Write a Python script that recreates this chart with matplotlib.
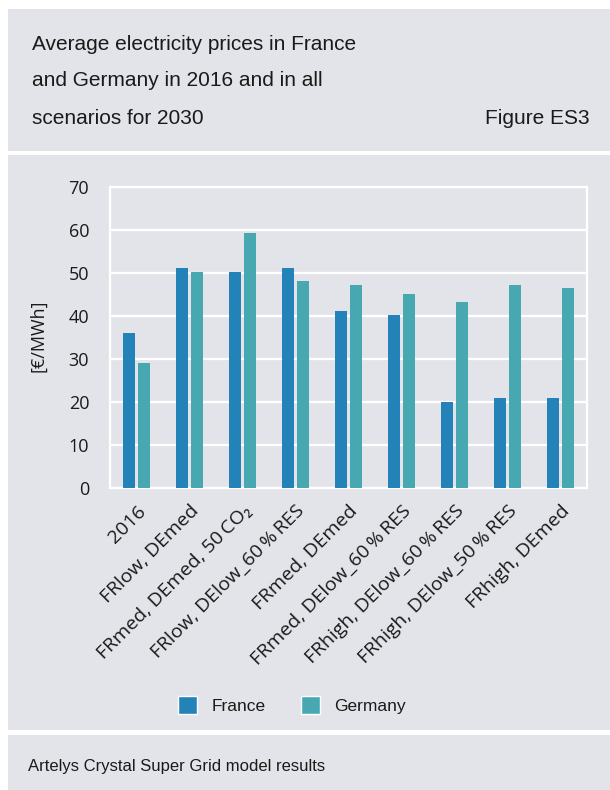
import matplotlib
matplotlib.use("Agg")
import matplotlib.pyplot as plt
from matplotlib.patches import Rectangle, Patch
from matplotlib import font_manager
import numpy as np

# data
scenarios = ["2016", "FRlow, DEmed", "FRmed, DEmed, 50\u2009CO\u2082",
             "FRlow, DElow_60\u2009%\u2009RES", "FRmed, DEmed",
             "FRmed, DElow_60\u2009%\u2009RES", "FRhigh, DElow_60\u2009%\u2009RES",
             "FRhigh, DElow_50\u2009%\u2009RES", "FRhigh, DEmed"]
france = [36.1, 51.2, 50.3, 51.2, 41.2, 40.3, 20.1, 21.0, 21.0]
germany = [29.1, 50.3, 59.4, 48.2, 47.3, 45.2, 43.3, 47.3, 46.4]
yticks = [0, 10, 20, 30, 40, 50, 60, 70]

c_fr = "#2383b8"
c_de = "#47a8b2"
panel = "#e3e4e9"
txt = "#1a1a1a"

names = set(f.name for f in font_manager.fontManager.ttflist)
narrow = "Liberation Sans Narrow" if "Liberation Sans Narrow" in names else "Liberation Sans"
tickfont = ["Open Sans", "DejaVu Sans"]

W, H = 610, 790
fig = plt.figure(figsize=(W / 100, H / 100), dpi=100)
fig.patch.set_facecolor("white")

def px_rect(x0, y0, x1, y1):
    fig.add_artist(Rectangle((x0 / W, 1 - y1 / H), (x1 - x0) / W, (y1 - y0) / H,
                             transform=fig.transFigure, facecolor=panel,
                             edgecolor="none", zorder=0))

px_rect(8, 9, 610, 151)
px_rect(8, 155, 610, 730)
px_rect(8, 735, 610, 790)

# header
fig.text(32 / W, 1 - 45 / H, "Average electricity prices in France", fontsize=15,
         family=narrow, color=txt, va="center")
fig.text(32 / W, 1 - 81 / H, "and Germany in 2016 and in all", fontsize=15,
         family=narrow, color=txt, va="center")
fig.text(32 / W, 1 - 118 / H, "scenarios for 2030", fontsize=15,
         family=narrow, color=txt, va="center")
fig.text(590 / W, 1 - 118 / H, "Figure ES3", fontsize=15,
         family=narrow, color=txt, va="center", ha="right")

# footer
fig.text(28 / W, 1 - 767 / H, "Artelys Crystal Super Grid model results", fontsize=12,
         family=narrow, color=txt, va="center")

ax = fig.add_axes([110 / W, 1 - 488 / H, 477 / W, 301 / H])
ax.set_facecolor(panel)
x = np.arange(len(scenarios))
w = 0.226
ax.bar(x - 0.142, france, width=w, color=c_fr, zorder=3)
ax.bar(x + 0.142, germany, width=w, color=c_de, zorder=3)

ax.set_xlim(-0.5, len(scenarios) - 0.5)
ax.set_ylim(0, 70)
ax.set_yticks(yticks)
ax.set_yticklabels([str(v) for v in yticks], family=tickfont, fontsize=13, color=txt)
ax.set_xticks(x)
ax.set_xticklabels(scenarios, rotation=45, ha="right", rotation_mode="anchor",
                   family=tickfont, fontsize=14, color=txt)
ax.tick_params(axis="both", length=0)
ax.tick_params(axis="y", pad=15)
ax.tick_params(axis="x", pad=10)
ax.grid(axis="y", color="white", linewidth=1.6, zorder=1)
ax.set_axisbelow(True)
for s in ax.spines.values():
    s.set_color("white")
    s.set_linewidth(1.6)

fig.text(38 / W, 1 - 336 / H, "[\u20ac/MWh]", rotation=90, family=tickfont,
         fontsize=13, color=txt, va="center", ha="center")

handles = [Patch(facecolor=c_fr, edgecolor="white", linewidth=1, label="France"),
           Patch(facecolor=c_de, edgecolor="white", linewidth=1, label="Germany")]
fig.legend(handles=handles, loc="center", bbox_to_anchor=(292 / W, 1 - 705 / H),
           ncol=2, frameon=False, prop={"family": narrow, "size": 12.5},
           handlelength=1.1, handleheight=1.3, handletextpad=0.85,
           columnspacing=2.0, labelcolor=txt)

fig.savefig("out.png", dpi=100)
